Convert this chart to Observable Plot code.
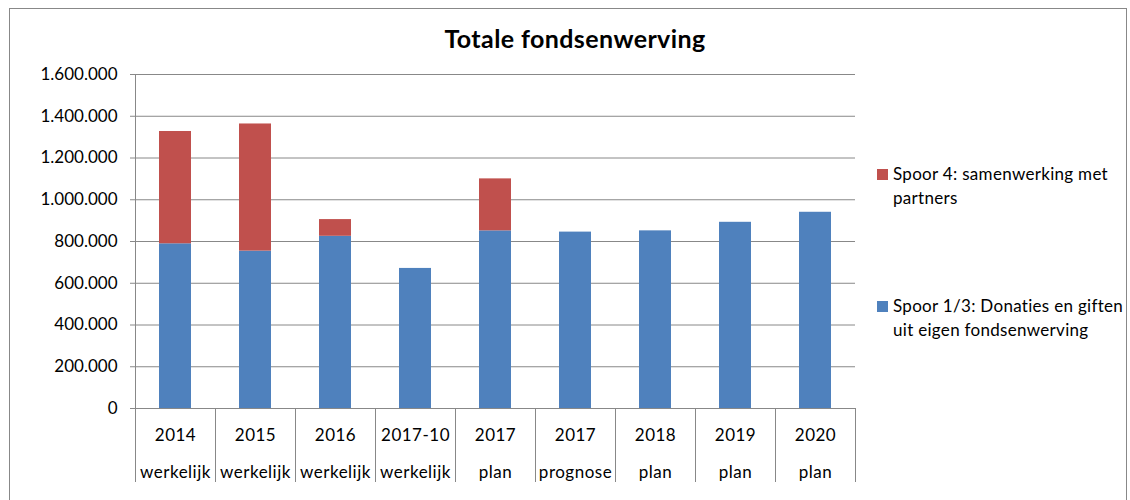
<!DOCTYPE html>
<html><head><meta charset="utf-8">
<script src="https://cdn.jsdelivr.net/npm/d3@7"></script>
<script src="https://cdn.jsdelivr.net/npm/@observablehq/plot@0.6"></script>
<style>
body{margin:0;background:#fff;}
#wrap{position:relative;width:1130px;height:500px;overflow:hidden;font-family:Lato,"Open Sans",sans-serif;color:#000;}
#border{position:absolute;left:9px;top:8px;width:1118px;height:600px;border:1px solid #888;box-sizing:border-box;}
#title{position:absolute;left:0;top:26px;width:1150px;text-align:center;font-weight:bold;font-size:25px;line-height:24px;letter-spacing:0.4px;}
.leg{position:absolute;left:893px;font-size:17px;line-height:24px;white-space:nowrap;letter-spacing:0.3px;}
.sw{position:absolute;left:877px;width:11px;height:11px;}
#chart{position:absolute;left:0;top:0;}
g[aria-label="x-axis tick label"] text{letter-spacing:0.5px;}
</style></head>
<body>
<div id="wrap">
<div id="border"></div>
<div id="chart"></div>
<div id="title"></div>
<div id="legend"></div>
</div>
<script>
const years = ["2014","2015","2016","2017-10","2017","2017","2018","2019","2020"];
const kinds = ["werkelijk","werkelijk","werkelijk","werkelijk","plan","prognose","plan","plan","plan"];
const spoor13 = [789000, 754000, 825000, 671000, 851000, 845000, 851000, 892000, 940000];
const spoor4  = [538000, 609000, 80000, 0, 249000, 0, 0, 0, 0];
const seriesNames = ["Spoor 1/3: Donaties en giften uit eigen fondsenwerving", "Spoor 4: samenwerking met partners"];
const seriesColors = ["#4F81BD", "#C0504D"];
const yTicks = [0, 200000, 400000, 600000, 800000, 1000000, 1200000, 1400000, 1600000];
const titleText = "Totale fondsenwerving";
const legendLines = [["Spoor 4: samenwerking met", "partners"], ["Spoor 1/3: Donaties en giften", "uit eigen fondsenwerving"]];

const keys = years.map((y, i) => y + " " + kinds[i]);
const yearOf = Object.fromEntries(keys.map((k, i) => [k, years[i]]));
const kindOf = Object.fromEntries(keys.map((k, i) => [k, kinds[i]]));
const rows = [];
keys.forEach((k, i) => {
  if (spoor13[i] > 0) rows.push({key: k, serie: seriesNames[0], value: spoor13[i]});
  if (spoor4[i] > 0) rows.push({key: k, serie: seriesNames[1], value: spoor4[i]});
});
const nl = d3.formatLocale({decimal: ",", thousands: ".", grouping: [3], currency: ["€", ""]});
const fmt = nl.format(",d");
const yMax = yTicks[yTicks.length - 1];
const grey = "#888";

const chart = Plot.plot({
  width: 1130, height: 500,
  marginLeft: 135, marginRight: 275, marginTop: 74, marginBottom: 92,
  style: {fontFamily: "Lato, 'Open Sans', sans-serif", fontSize: "17px", color: "#000", background: "transparent"},
  x: {domain: keys, padding: 0},
  y: {domain: [0, yMax]},
  color: {domain: seriesNames, range: seriesColors},
  marks: [
    Plot.gridY(yTicks, {stroke: grey, strokeOpacity: 1}),
    Plot.barY(rows, {x: "key", y: "value", fill: "serie", insetLeft: 24, insetRight: 24}),
    Plot.ruleY([0], {stroke: grey}),
    Plot.ruleX(keys, {x: d => d, y1: 0, y2: 0, dx: -40, insetBottom: -74, stroke: grey}),
    Plot.ruleX(keys.slice(-1), {x: d => d, y1: 0, y2: 0, dx: 40, insetBottom: -74, stroke: grey}),
    Plot.ruleX(keys.slice(0, 1), {x: d => d, y1: 0, y2: yMax, dx: -40, stroke: grey}),
    Plot.axisY({ticks: yTicks, tickFormat: fmt, tickSize: 5, tickPadding: 13, stroke: grey, fill: "#000", label: null}),
    Plot.axisX({tickFormat: k => yearOf[k], tickSize: 0, tickPadding: 20, fill: "#000", label: null}),
    Plot.axisX({tickFormat: k => kindOf[k], tickSize: 0, tickPadding: 57, fill: "#000", label: null})
  ]
});
document.getElementById("chart").appendChild(chart);
document.getElementById("title").textContent = titleText;

const legend = document.getElementById("legend");
const legTops = [162, 294];
const legOrder = [1, 0];
legOrder.forEach((s, j) => {
  const sw = document.createElement("div");
  sw.className = "sw";
  sw.style.top = (legTops[j] + 7) + "px";
  sw.style.background = seriesColors[s];
  legend.appendChild(sw);
  const t = document.createElement("div");
  t.className = "leg";
  t.style.top = legTops[j] + "px";
  legendLines[j].forEach((line, n) => {
    if (n) t.appendChild(document.createElement("br"));
    t.appendChild(document.createTextNode(line));
  });
  legend.appendChild(t);
});
</script>
</body></html>
